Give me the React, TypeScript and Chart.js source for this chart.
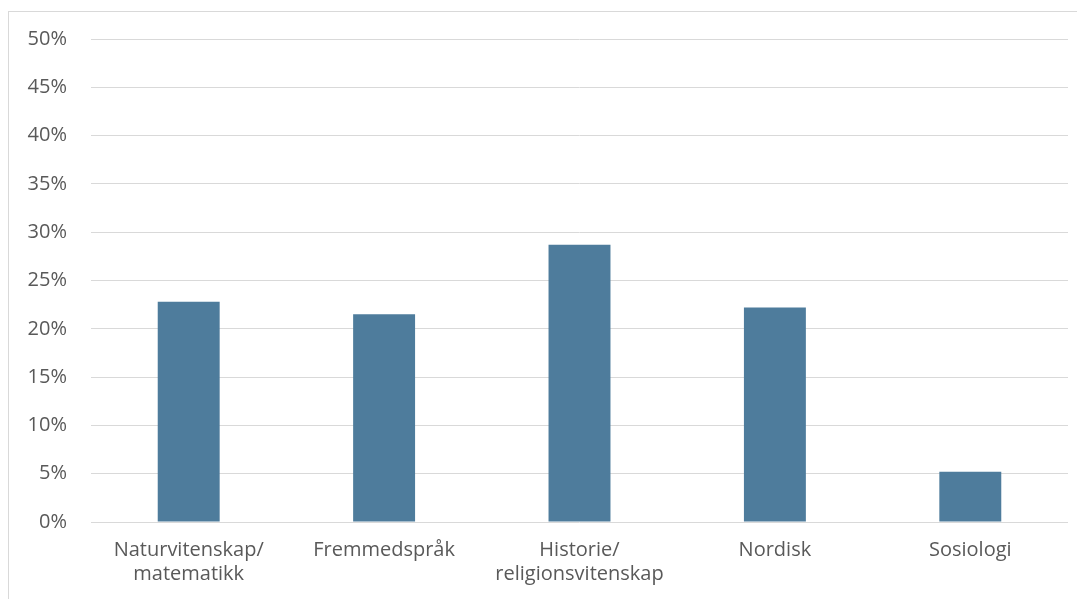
import React, { useEffect, useRef } from "react";
import { Chart, registerables } from "chart.js";

Chart.register(...registerables);

const categories: string[][] = [
  ["Naturvitenskap/", "matematikk"],
  ["Fremmedspråk"],
  ["Historie/", "religionsvitenskap"],
  ["Nordisk"],
  ["Sosiologi"],
];
const shares: number[] = [22.8, 21.5, 28.7, 22.2, 5.2];
const yTicks: number[] = [0, 5, 10, 15, 20, 25, 30, 35, 40, 45, 50];

export default function App() {
  const ref = useRef<HTMLCanvasElement>(null);
  useEffect(() => {
    if (!ref.current) return;
    const chart = new Chart(ref.current, {
      type: "bar",
      data: {
        labels: categories,
        datasets: [
          {
            data: shares,
            backgroundColor: "rgb(78,124,156)",
            barPercentage: 0.317,
            categoryPercentage: 1,
          },
        ],
      },
      options: {
        animation: false,
        responsive: false,
        maintainAspectRatio: false,
        layout: { padding: { top: 27, right: 17, bottom: 0, left: 0 } },
        plugins: { legend: { display: false }, tooltip: { enabled: false } },
        scales: {
          x: {
            grid: { display: false, drawTicks: false },
            border: { display: false },
            ticks: {
              color: "#595959",
              font: { family: "'Open Sans', sans-serif", size: 20, lineHeight: 1.2 },
              padding: 16,
              maxRotation: 0,
              autoSkip: false,
            },
            afterFit: (s: any) => {
              s.height = 77;
              s.paddingLeft = 0;
              s.paddingRight = 0;
            },
          },
          y: {
            min: 0,
            max: 50,
            afterBuildTicks: (s: any) => {
              s.ticks = yTicks.map((v) => ({ value: v }));
            },
            grid: { color: "#d9d9d9", lineWidth: 1, drawTicks: false },
            border: { display: false },
            ticks: {
              color: "#595959",
              font: { family: "'Open Sans', sans-serif", size: 20 },
              padding: 24,
              callback: (v: any) => v + "%",
            },
            afterFit: (s: any) => {
              s.width = 82;
              s.paddingTop = 0;
              s.paddingBottom = 0;
            },
          },
        },
      },
    });
    return () => chart.destroy();
  }, []);
  return (
    <div
      style={{
        marginTop: 3,
        width: 1077,
        height: 588,
        borderLeft: "1px solid #d9d9d9",
        borderTop: "1px solid #d9d9d9",
        boxSizing: "border-box",
        overflow: "hidden",
      }}
    >
      <canvas ref={ref} width={1076} height={587} style={{ display: "block" }} />
    </div>
  );
}
